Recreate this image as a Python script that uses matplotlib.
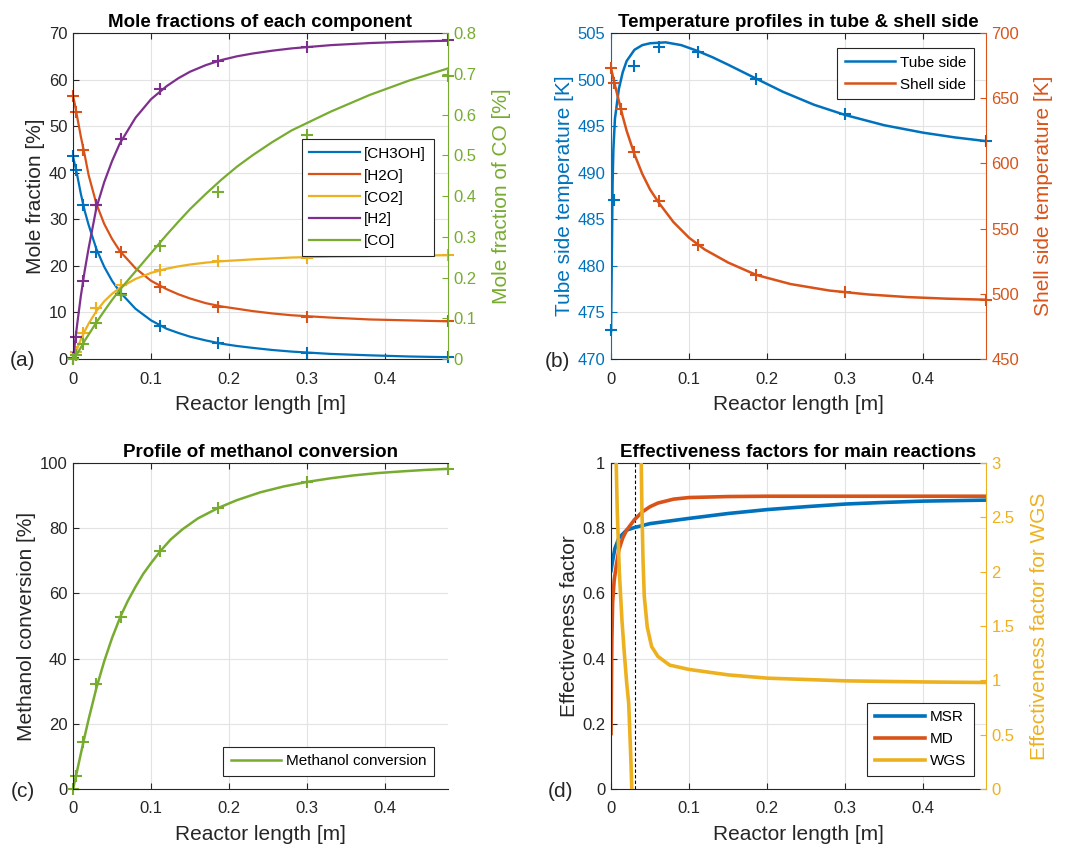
import matplotlib
matplotlib.use("Agg")
import matplotlib.pyplot as plt
from matplotlib.ticker import FuncFormatter, MultipleLocator

plt.rcParams["font.family"] = ["Liberation Sans", "DejaVu Sans"]

BLUE = "#0072BD"
ORANGE = "#D95319"
YELLOW = "#EDB120"
PURPLE = "#7E2F8E"
GREEN = "#77AC30"
DARK = "#262626"

# --- (a) mole fractions ---
x_line = [0, 0.002, 0.005, 0.01, 0.015, 0.02, 0.03, 0.04, 0.05, 0.06, 0.08,
          0.1, 0.12, 0.135, 0.15, 0.17, 0.19, 0.21, 0.23, 0.255, 0.28, 0.33, 0.38, 0.43, 0.48]
ch3oh_line = [43.5, 42, 39.8, 35.5, 31.8, 28.8, 23.6, 19.8, 16.8, 14.4, 10.8,
              8.3, 6.5, 5.6, 4.8, 4.0, 3.3, 2.8, 2.4, 1.95, 1.6, 1.1, 0.8, 0.55, 0.4]
h2o_line = [56.5, 55, 52.3, 47.8, 43.8, 39.5, 33.3, 29, 25.8, 23.2, 19.5,
            16.8, 15, 13.9, 13.0, 12.0, 11.3, 10.8, 10.3, 9.8, 9.4, 8.9, 8.5, 8.3, 8.1]
co2_line = [0, 0.8, 2.1, 4.2, 6.0, 7.6, 10.3, 12.4, 14.0, 15.3, 17.2,
            18.5, 19.4, 19.9, 20.3, 20.7, 21.0, 21.2, 21.4, 21.6, 21.8, 22.0, 22.1, 22.2, 22.3]
h2_line = [0, 2.8, 7, 13.5, 19, 23.8, 32.5, 38, 42.5, 46.3, 51.8,
           55.8, 58.6, 60.3, 61.7, 63.1, 64.2, 65.0, 65.6, 66.2, 66.7, 67.4, 67.85, 68.15, 68.35]
co_line = [0, 0.004, 0.012, 0.028, 0.045, 0.06, 0.09, 0.118, 0.145, 0.17, 0.215,
           0.26, 0.305, 0.337, 0.368, 0.405, 0.44, 0.472, 0.5, 0.532, 0.561, 0.607, 0.648, 0.683, 0.713]

x_mark = [0, 0.004, 0.013, 0.03, 0.061, 0.112, 0.186, 0.3, 0.48]
ch3oh_mark = [43.5, 40.5, 33, 23, 14, 7.2, 3.4, 1.3, 0.4]
h2o_mark = [56.5, 53, 44.8, 33, 23, 15.5, 11.2, 9.1, 8.1]
co2_mark = [0.3, 1.5, 5.5, 10.9, 15.9, 19.2, 21.0, 21.8, 22.3]
h2_mark = [0.3, 4.7, 16.8, 33.1, 47.2, 58.0, 63.9, 67.1, 68.5]
co_mark = [0, 0.01, 0.037, 0.088, 0.157, 0.277, 0.41, 0.55, 0.695]

# --- (b) temperatures ---
x_tube = [0, 0.001, 0.002, 0.003, 0.005, 0.01, 0.015, 0.02, 0.03, 0.04, 0.05,
          0.07, 0.09, 0.11, 0.13, 0.15, 0.186, 0.22, 0.26, 0.3, 0.35, 0.4, 0.44, 0.48]
tube_line = [473, 481, 489, 492.5, 495.8, 499, 500.8, 502, 503.2, 503.7, 503.9,
             504, 503.7, 503.1, 502.4, 501.6, 500.1, 498.7, 497.3, 496.2, 495.1, 494.3, 493.8, 493.4]
x_shell = [0, 0.005, 0.01, 0.015, 0.02, 0.03, 0.04, 0.05, 0.061, 0.08, 0.1,
           0.12, 0.15, 0.186, 0.23, 0.28, 0.33, 0.38, 0.43, 0.48]
shell_line = [673, 660, 648, 636, 625, 607, 592, 580, 570, 555, 543,
              534, 524, 514.5, 507.5, 502.5, 499.5, 497.5, 496.3, 495.5]
x_tube_mark = [0, 0.004, 0.03, 0.061, 0.112, 0.186, 0.3, 0.48]
tube_mark = [473.1, 487.1, 501.5, 503.5, 503.0, 500.1, 496.3, 493.4]
shell_mark = [673, 662, 641.7, 608.4, 571.3, 537.5, 514.2, 501.2, 495.3]

# --- (c) conversion ---
x_conv = [0, 0.004, 0.01, 0.015, 0.02, 0.03, 0.04, 0.05, 0.061, 0.07, 0.08, 0.09, 0.1,
          0.112, 0.125, 0.14, 0.16, 0.186, 0.21, 0.24, 0.27, 0.3, 0.33, 0.36, 0.39, 0.42, 0.45, 0.48]
conv_line = [0, 4.2, 10.8, 16.2, 21.4, 31.0, 39.2, 46.3, 53, 57.6, 62, 66, 69.3,
             73, 76.5, 79.6, 83, 86.2, 88.6, 91, 92.8, 94.2, 95.3, 96.2, 96.9, 97.4, 97.85, 98.2]
conv_mark = [0, 3.9, 14.3, 32.2, 52.9, 73.0, 86.2, 94.2, 98.2]

# --- (d) effectiveness factors ---
x_msr = [0, 0.001, 0.002, 0.005, 0.01, 0.02, 0.03, 0.05, 0.1, 0.15, 0.2, 0.25, 0.3, 0.35, 0.4, 0.48]
msr = [0.67, 0.685, 0.70, 0.738, 0.77, 0.794, 0.802, 0.814, 0.83, 0.845, 0.857, 0.866, 0.874, 0.879, 0.883, 0.886]
x_md = [0, 0.001, 0.002, 0.004, 0.007, 0.01, 0.015, 0.02, 0.03, 0.04, 0.05, 0.06, 0.08, 0.1, 0.15, 0.2, 0.48]
md = [0.17, 0.45, 0.57, 0.64, 0.69, 0.733, 0.77, 0.794, 0.826, 0.85, 0.866, 0.877, 0.889, 0.894, 0.897, 0.898, 0.898]
x_wgs_a = [0.006, 0.008, 0.0106, 0.014, 0.017, 0.02, 0.0226, 0.0243, 0.0255, 0.0268]
wgs_a = [3.2, 2.55, 2.0, 1.55, 1.25, 0.98, 0.79, 0.48, 0.25, -0.05]
x_wgs_b = [0.0383, 0.0395, 0.041, 0.0426, 0.0464, 0.052, 0.06, 0.075, 0.1, 0.15, 0.2, 0.3, 0.4, 0.48]
wgs_b = [3.2, 2.6, 2.1, 1.77, 1.49, 1.31, 1.22, 1.14, 1.1, 1.05, 1.02, 0.995, 0.985, 0.98]
x_singular = 0.031

fmt = FuncFormatter(lambda v, p: "%g" % round(v, 6))


def style(ax, xlabel, ylabel, title, ycolor=DARK):
    ax.set_xlim(0, 0.48)
    ax.xaxis.set_major_locator(MultipleLocator(0.1))
    ax.xaxis.set_major_formatter(fmt)
    ax.yaxis.set_major_formatter(fmt)
    ax.grid(True, color="#e3e3e3", lw=0.8)
    ax.set_axisbelow(True)
    ax.tick_params(axis="x", direction="in", top=True, labelsize=12, pad=9, colors=DARK, length=4)
    ax.tick_params(axis="y", direction="in", right=False, labelsize=12, pad=4, colors=ycolor, length=4)
    ax.spines["right"].set_visible(False)
    for s in ["top", "bottom"]:
        ax.spines[s].set_color(DARK)
    ax.spines["left"].set_color(ycolor)
    ax.set_xlabel(xlabel, fontsize=15, color=DARK, labelpad=6)
    ax.set_ylabel(ylabel, fontsize=15, color=ycolor, labelpad=2.5)
    ax.set_title(title, fontsize=13.5, fontweight="bold", pad=4)


def style_right(tw, ylabel, color):
    for s in ["left", "top", "bottom"]:
        tw.spines[s].set_visible(False)
    tw.spines["right"].set_color(color)
    tw.tick_params(axis="y", direction="in", labelsize=12, pad=4, colors=color, length=4)
    tw.yaxis.set_major_formatter(fmt)
    tw.set_ylabel(ylabel, fontsize=15, color=color, labelpad=11)


def legend(ax, handles, labels, **kw):
    leg = ax.legend(handles, labels, fontsize=11, fancybox=False, edgecolor=DARK,
                    framealpha=1, handlelength=3.3, handletextpad=0.3,
                    borderpad=0.5, labelspacing=0.52, borderaxespad=0, **kw)
    leg.get_frame().set_linewidth(0.8)
    return leg


fig = plt.figure(figsize=(10.69, 8.47), dpi=100)
W, H = 0.3505, 0.3849
ax_a = fig.add_axes([0.0683, 0.5761, W, H])
ax_b = fig.add_axes([0.5716, 0.5761, W, H])
ax_c = fig.add_axes([0.0683, 0.0685, W, H])
ax_d = fig.add_axes([0.5716, 0.0685, W, H])

mk = dict(marker="+", ms=9, mew=1.5, ls="none", clip_on=False)

# (a)
style(ax_a, "Reactor length [m]", "Mole fraction [%]", "Mole fractions of each component")
ax_a.set_ylim(0, 70)
ax_a.yaxis.set_major_locator(MultipleLocator(10))
tw_a = ax_a.twinx()
style_right(tw_a, "Mole fraction of CO [%]", GREEN)
tw_a.set_ylim(0, 0.8)
tw_a.yaxis.set_major_locator(MultipleLocator(0.1))
hs = []
for yl, ym, c in [(ch3oh_line, ch3oh_mark, BLUE), (h2o_line, h2o_mark, ORANGE),
                  (co2_line, co2_mark, YELLOW), (h2_line, h2_mark, PURPLE)]:
    h, = ax_a.plot(x_line, yl, color=c, lw=1.6)
    ax_a.plot(x_mark, ym, color=c, **mk)
    hs.append(h)
h, = tw_a.plot(x_line, co_line, color=GREEN, lw=1.6)
tw_a.plot(x_mark, co_mark, color=GREEN, **mk)
hs.append(h)
legend(tw_a, hs, ["[CH3OH]", "[H2O]", "[CO2]", "[H2]", "[CO]"],
       loc="upper right", bbox_to_anchor=(0.963, 0.675))

# (b)
style(ax_b, "Reactor length [m]", "Tube side temperature [K]",
      "Temperature profiles in tube & shell side", ycolor=BLUE)
ax_b.set_ylim(470, 505)
ax_b.yaxis.set_major_locator(MultipleLocator(5))
tw_b = ax_b.twinx()
style_right(tw_b, "Shell side temperature [K]", ORANGE)
tw_b.set_ylim(450, 700)
tw_b.yaxis.set_major_locator(MultipleLocator(50))
h1, = ax_b.plot(x_tube, tube_line, color=BLUE, lw=1.8)
ax_b.plot(x_tube_mark, tube_mark, color=BLUE, **mk)
h2, = tw_b.plot(x_shell, shell_line, color=ORANGE, lw=1.8)
tw_b.plot(x_mark, shell_mark, color=ORANGE, **mk)
legend(tw_b, [h1, h2], ["Tube side", "Shell side"], loc="upper right",
       bbox_to_anchor=(0.968, 0.954))

# (c)
style(ax_c, "Reactor length [m]", "Methanol conversion [%]", "Profile of methanol conversion")
ax_c.set_ylim(0, 100)
ax_c.yaxis.set_major_locator(MultipleLocator(20))
h, = ax_c.plot(x_conv, conv_line, color=GREEN, lw=1.8)
ax_c.plot(x_mark, conv_mark, color=GREEN, **mk)
legend(ax_c, [h], ["Methanol conversion"], loc="lower right",
       bbox_to_anchor=(0.963, 0.04))

# (d)
style(ax_d, "Reactor length [m]", "Effectiveness factor", "Effectiveness factors for main reactions")
ax_d.set_ylim(0, 1)
ax_d.yaxis.set_major_locator(MultipleLocator(0.2))
tw_d = ax_d.twinx()
style_right(tw_d, "Effectiveness factor for WGS", YELLOW)
tw_d.set_ylim(0, 3)
tw_d.yaxis.set_major_locator(MultipleLocator(0.5))
ax_d.axvline(x_singular, color="k", ls=(0, (3, 2)), lw=0.8)
h1, = ax_d.plot(x_msr, msr, color=BLUE, lw=2.6)
h2, = ax_d.plot(x_md, md, color=ORANGE, lw=2.6)
h3, = tw_d.plot(x_wgs_a, wgs_a, color=YELLOW, lw=2.6)
tw_d.plot(x_wgs_b, wgs_b, color=YELLOW, lw=2.6)
legend(tw_d, [h1, h2, h3], ["MSR", "MD", "WGS"], loc="lower right",
       bbox_to_anchor=(0.968, 0.04))

for lab, x, y in [("(a)", 10, 360), ("(b)", 545, 361), ("(c)", 11, 791), ("(d)", 548, 791)]:
    fig.text(x / 1069, 1 - y / 847, lab, fontsize=15, color=DARK, ha="left", va="center")

fig.savefig("out.png", dpi=100)
